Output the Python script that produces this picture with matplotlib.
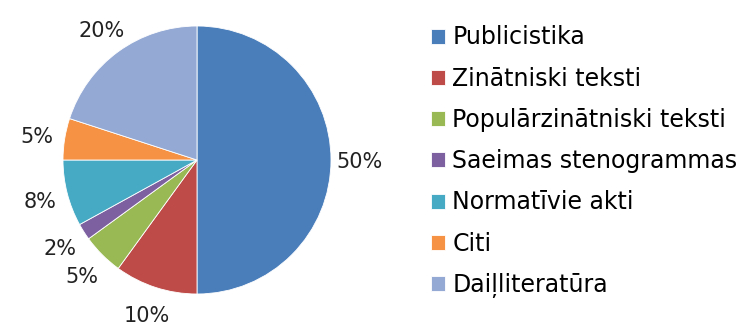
import matplotlib
matplotlib.use("Agg")
import matplotlib.pyplot as plt

categories = ["Publicistika", "Zinātniski teksti", "Populārzinātniski teksti",
              "Saeimas stenogrammas", "Normatīvie akti", "Citi", "Daiļliteratūra"]
values = [50, 10, 5, 2, 8, 5, 20]
pct_labels = ["50%", "10%", "5%", "2%", "8%", "5%", "20%"]
colors = ["#4A7EBB", "#BE4B48", "#98B954", "#7D60A0", "#46AAC5", "#F59243", "#94AAD5"]

W, H = 738, 325
fig = plt.figure(figsize=(W / 100, H / 100), dpi=100)
fig.patch.set_facecolor("white")

cx, cy, r = 197, 160, 134
ax = fig.add_axes([(cx - r) / W, (H - cy - r) / H, 2 * r / W, 2 * r / H])
wedges, texts = ax.pie(values, labels=pct_labels, colors=colors, startangle=90,
                       counterclock=False, labeldistance=1.21,
                       wedgeprops=dict(edgecolor="white", linewidth=0.6),
                       textprops=dict(fontsize=15, color="#222222",
                                      family="DejaVu Sans"))
for t in texts:
    t.set_horizontalalignment("center")
    t.set_verticalalignment("center_baseline")
ax.set_xlim(-1, 1)
ax.set_ylim(-1, 1)
ax.set_aspect("equal")
ax.axis("off")

fig.legend(wedges, categories, loc="upper left",
           bbox_to_anchor=(431 / W, 1 - 25.5 / H), frameon=False,
           handlelength=0.6, handleheight=0.6,
           handletextpad=0.3, labelspacing=0.73, borderaxespad=0,
           borderpad=0, prop=dict(family="DejaVu Sans", size=17))

fig.savefig("out.png", dpi=100, facecolor="white")
